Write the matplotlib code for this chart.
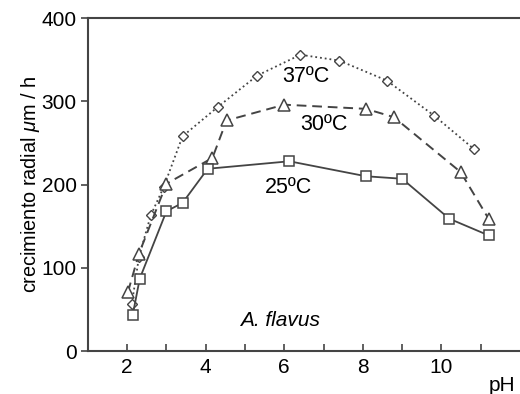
import matplotlib
matplotlib.use("Agg")
import matplotlib.pyplot as plt
import numpy as np

plt.rcParams['font.family'] = ['Liberation Sans', 'DejaVu Sans']
plt.rcParams['mathtext.fontset'] = 'custom'
plt.rcParams['mathtext.it'] = 'Liberation Sans:italic'

# --- data ---
ph_37 = [2.12, 2.3, 2.6, 2.93, 3.41, 4.3, 5.31, 6.41, 7.4, 8.61, 9.81, 10.82]
gr_37 = [57, 113, 163, 197, 258, 293, 331, 356, 349, 325, 283, 243]

ph_30 = [2.02, 2.3, 3.0, 4.17, 4.53, 6.0, 8.08, 8.79, 10.49, 11.2]
gr_30 = [71, 117, 201, 232, 277, 296, 291, 281, 215, 159]

ph_25 = [2.14, 2.32, 3.0, 3.41, 4.05, 6.13, 8.08, 9.0, 10.2, 11.2]
gr_25 = [43, 87, 168, 178, 219, 228, 210, 207, 159, 139]

x_ticks = [2, 4, 6, 8, 10]
y_ticks = [0, 100, 200, 300, 400]

fig = plt.figure(figsize=(5.2, 3.94), dpi=100)
ax = fig.add_axes([0.169, 0.109, 0.831, 0.845])

col = "#444444"
ax.plot(ph_37, gr_37, linestyle=":", color=col, linewidth=1.3,
        marker="D", markersize=5, markerfacecolor="white", markeredgecolor=col, markeredgewidth=1.0)
ax.plot(ph_30, gr_30, linestyle=(0, (5, 3)), color=col, linewidth=1.4,
        marker="^", markersize=8, markerfacecolor="white", markeredgecolor=col, markeredgewidth=1.1)
ax.plot(ph_25, gr_25, linestyle="-", color=col, linewidth=1.3,
        marker="s", markersize=7, markerfacecolor="white", markeredgecolor=col, markeredgewidth=1.1)

# curve labels
ax.text(6.56, 330, "37ºC", fontsize=15.5, ha="center", va="center", color="black")
ax.text(7.02, 272, "30ºC", fontsize=15.5, ha="center", va="center", color="black")
ax.text(6.1, 196, "25ºC", fontsize=15.5, ha="center", va="center", color="black")
ax.text(5.9, 37, "A. flavus", fontsize=15, style="italic", ha="center", va="center")

ax.set_xlim(1, 12)
ax.set_ylim(0, 400)
ax.set_xticks(x_ticks)
ax.set_xticks([3, 5, 7, 9, 11], minor=True)
ax.set_yticks(y_ticks)
ax.tick_params(axis="x", which="both", direction="in", length=5, width=1.2, color=col,
               labelsize=15, pad=5)
ax.tick_params(axis="y", direction="out", length=5, width=1.2, color=col, labelsize=15, pad=3)

for s in ["left", "bottom", "top"]:
    ax.spines[s].set_color("#444444")
    ax.spines[s].set_linewidth(1.5)
ax.spines["right"].set_visible(False)

ax.set_ylabel(r"crecimiento radial $\mu$m / h", fontsize=14.3, labelpad=0)
fig.text(0.965, 0.022, "pH", fontsize=15, ha="center", va="center")

fig.savefig("out.png", dpi=100)
